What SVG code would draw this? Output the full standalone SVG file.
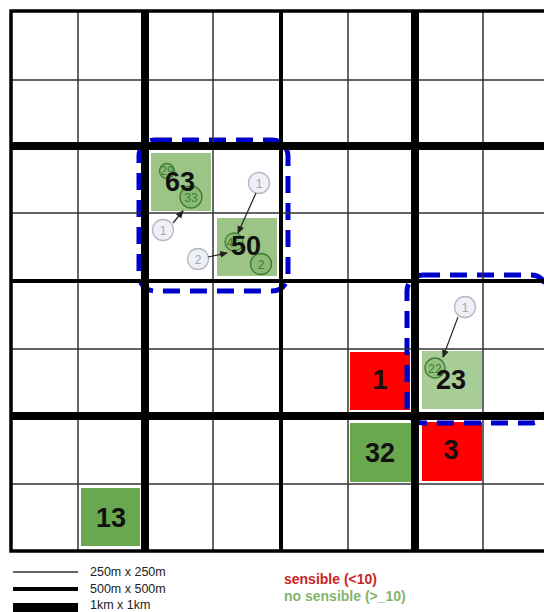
<svg xmlns="http://www.w3.org/2000/svg" width="544" height="612" viewBox="0 0 544 612">
<defs>
<style>
.thin{stroke:#333;stroke-width:1.5;fill:none}
.med{stroke:#000;stroke-width:4;fill:none}
.thick{stroke:#000;stroke-width:8;fill:none}
.num{font-family:"Liberation Sans",Arial,sans-serif;font-weight:bold;font-size:27px;fill:#111;text-anchor:middle}
.gc{fill:#6aa84f;fill-opacity:0.35;stroke:#3d7d32;stroke-width:1.3}
.gt{font-family:"Liberation Sans",Arial,sans-serif;font-size:12px;fill:#3d7d32;text-anchor:middle}
.wc{fill:#eef0f6;stroke:#b4b8c2;stroke-width:1.3}
.wt{font-family:"Liberation Sans",Arial,sans-serif;font-size:12px;fill:#a2a6b0;text-anchor:middle}
.arr{stroke:#222;stroke-width:1.2;fill:none;marker-end:url(#ah)}
.blue{fill:none;stroke:#0000cc;stroke-width:5;stroke-dasharray:17 10}
.leg{font-family:"Liberation Sans",Arial,sans-serif;font-size:12.5px;fill:#222}
.lab{font-family:"Liberation Sans",Arial,sans-serif;font-size:14px;font-weight:bold}
</style>
<marker id="ah" markerWidth="8" markerHeight="8" refX="7" refY="4" orient="auto" markerUnits="userSpaceOnUse">
<path d="M0,0.5 L8,4 L0,7.5 Z" fill="#222"/>
</marker>
</defs>
<rect width="544" height="612" fill="#fff"/>

<g id="cells">
<g id="cell-63"><rect x="151" y="153" width="60" height="58" fill="#9dc487"/></g>
<g id="cell-50"><rect x="217" y="218" width="60" height="58" fill="#9dc487"/></g>
<g id="cell-23"><rect x="422" y="351" width="60" height="58" fill="#a8cd96"/></g>
<g id="cell-1"><rect x="350" y="352" width="60" height="58" fill="#ff0000"/></g>
<g id="cell-32"><rect x="350" y="423" width="61" height="59" fill="#6aa84f"/></g>
<g id="cell-3"><rect x="422" y="422" width="60" height="59" fill="#ff0000"/></g>
<g id="cell-13"><rect x="81" y="488" width="59" height="58" fill="#6aa84f"/></g>
</g>

<g id="clusters">
<rect x="139" y="140" width="149" height="151" rx="16" class="blue"/>
<rect x="407" y="275" width="140" height="148" rx="16" class="blue"/>
</g>

<g id="grid">
<line class="thin" x1="78" y1="11" x2="78" y2="552"/>
<line class="thin" x1="213" y1="11" x2="213" y2="552"/>
<line class="thin" x1="348" y1="11" x2="348" y2="552"/>
<line class="thin" x1="483" y1="11" x2="483" y2="552"/>
<line class="thin" x1="10" y1="80" x2="544" y2="80"/>
<line class="thin" x1="10" y1="213" x2="544" y2="213"/>
<line class="thin" x1="10" y1="349" x2="544" y2="349"/>
<line class="thin" x1="10" y1="484" x2="544" y2="484"/>
<line class="med" x1="281" y1="11" x2="281" y2="552"/>
<line class="med" x1="10" y1="281" x2="544" y2="281"/>
<line class="thick" x1="145" y1="11" x2="145" y2="552"/>
<line class="thick" x1="415" y1="11" x2="415" y2="552"/>
<line class="thick" x1="10" y1="146" x2="544" y2="146"/>
<line class="thick" x1="10" y1="416" x2="544" y2="416"/>
<path d="M544,11 H11 V551 H544" stroke="#000" stroke-width="3.5" fill="none"/>
</g>

<g id="markers">
<circle class="gc" cx="167" cy="171" r="7.5"/><text class="gt" x="167" y="175" font-size="10">29</text>
<circle class="gc" cx="191" cy="197" r="11"/><text class="gt" x="191" y="201.5">33</text>
<circle class="gc" cx="234" cy="242" r="9"/><text class="gt" x="230" y="246.5">4</text>
<circle class="gc" cx="261" cy="264" r="10.5"/><text class="gt" x="261" y="268.5">2</text>
<circle class="gc" cx="435" cy="368" r="10"/><text class="gt" x="435" y="372.5">22</text>
<circle class="wc" cx="163" cy="230" r="10.5"/><text class="wt" x="163" y="234.5">1</text>
<circle class="wc" cx="259" cy="183" r="10.5"/><text class="wt" x="259" y="187.5">1</text>
<circle class="wc" cx="198" cy="259" r="10.5"/><text class="wt" x="198" y="263.5">2</text>
<circle class="wc" cx="465" cy="307" r="10.5"/><text class="wt" x="465" y="311.5">1</text>
</g>

<g id="connectors">
<line class="arr" x1="173" y1="223" x2="183" y2="211"/>
<line class="arr" x1="256" y1="193" x2="238" y2="233"/>
<line class="arr" x1="208" y1="257" x2="227" y2="253"/>
<line class="arr" x1="458" y1="317" x2="443" y2="357"/>
</g>

<g id="numbers">
<text class="num" x="180" y="191">63</text>
<text class="num" x="246" y="255">50</text>
<text class="num" x="451" y="389">23</text>
<text class="num" x="380" y="389">1</text>
<text class="num" x="380" y="462">32</text>
<text class="num" x="451" y="459">3</text>
<text class="num" x="111" y="527">13</text>
</g>

<g id="legend">
<line x1="13" y1="572" x2="78" y2="572" stroke="#333" stroke-width="1.5"/>
<line x1="13" y1="589" x2="78" y2="589" stroke="#000" stroke-width="4"/>
<rect x="13" y="603" width="65" height="9" fill="#000"/>
<text class="leg" x="90" y="576">250m x 250m</text>
<text class="leg" x="90" y="593">500m x 500m</text>
<text class="leg" x="90" y="609">1km x 1km</text>
<text class="lab" x="284" y="584" fill="#cc2424">sensible (&lt;10)</text>
<text class="lab" x="284" y="601" fill="#84b36e">no sensible (&gt;_10)</text>
</g>
</svg>
